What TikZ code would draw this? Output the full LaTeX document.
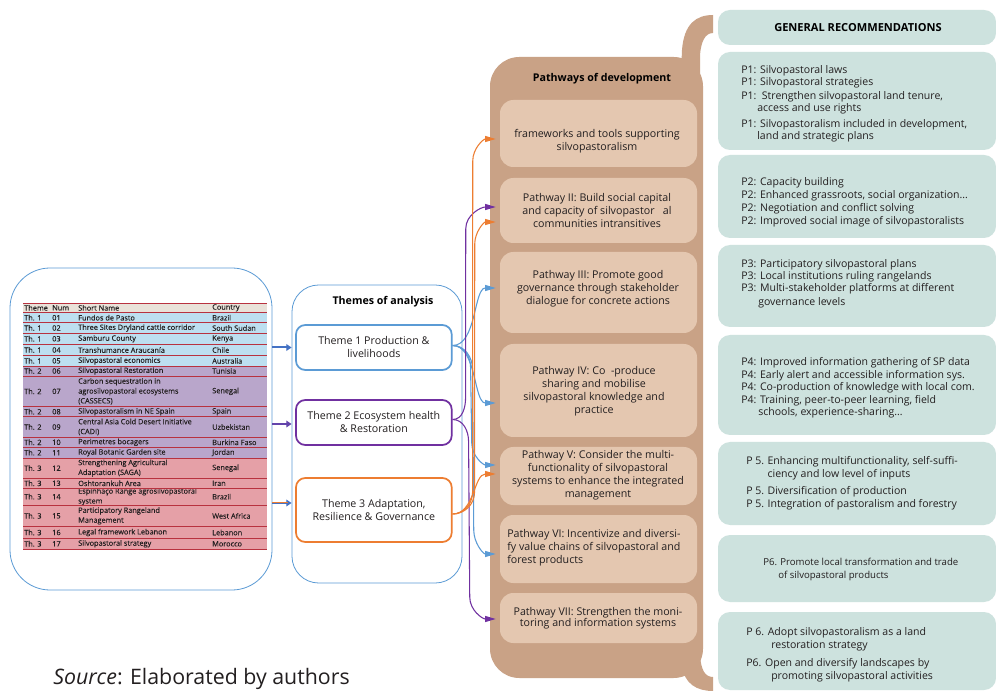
\documentclass[tikz,border=0pt]{standalone}
\usepackage{fontspec}
\setmainfont{Open Sans}
\newfontfamily\tblfont[FakeBold=0.3]{Open Sans}
\usetikzlibrary{arrows.meta,calc}

\definecolor{tblblue}{HTML}{BDDFF0}
\definecolor{tblpurple}{HTML}{B9A6CB}
\definecolor{tblpink}{HTML}{E5A0A7}
\definecolor{tblhead}{HTML}{E9E2D9}
\definecolor{tblrule}{HTML}{B8323F}
\definecolor{lineblue}{HTML}{5B9BD5}
\definecolor{arrowblue}{HTML}{4472C4}
\definecolor{themepurple}{HTML}{7030A0}
\definecolor{themeorange}{HTML}{ED7D31}
\definecolor{colbrown}{HTML}{C9A286}
\definecolor{pathfill}{HTML}{E4C7B0}
\definecolor{recfill}{HTML}{CDE2DE}
\definecolor{inktext}{HTML}{231F20}

\tikzset{
  tcell/.style={anchor=west, inner sep=0pt, align=left, font=\tblfont\fontsize{5.5}{7.4}\selectfont, text=inktext},
  themebox/.style={draw, line width=1.3pt, rounded corners=7pt, minimum width=116.8pt, align=center,
    font=\fontsize{8}{9.75}\selectfont, fill=white, text=inktext},
  pathbox/.style={fill=pathfill, rounded corners=10pt, minimum width=147.75pt, inner sep=0pt},
  pathtext/.style={align=center, font=\fontsize{8}{9.75}\selectfont, inner sep=0pt, text=inktext},
  recbox/.style={fill=recfill, rounded corners=9pt, minimum width=208.5pt, inner sep=0pt},
  rectext/.style={anchor=west, align=left, font=\fontsize{7.9}{9.4}\selectfont, inner sep=0pt, text=inktext},
  titletext/.style={font=\bfseries\fontsize{8}{9.75}\selectfont, inner sep=0pt, text=black},
  conn/.style={line width=0.8pt, -{Triangle[length=8pt,width=4.5pt]}},
  cblue/.style={conn, lineblue},
  cpurple/.style={conn, themepurple},
  corange/.style={conn, themeorange},
  feed/.style={line width=1.5pt, -{Triangle[length=4pt,width=5pt]}},
}

% one coloured table row: name, top, bottom, fill, theme, number, short name, country
\newcommand\sprow[8]{%
  \fill[#4] (23,#2) rectangle (267,#3);
  \node[tcell] (r#1a) at (24,{(#2+#3)/2}) {#5};
  \node[tcell] (r#1b) at (52,{(#2+#3)/2}) {#6};
  \node[tcell] (r#1c) at (78,{(#2+#3)/2}) {#7};
  \node[tcell] (r#1d) at (212,{(#2+#3)/2}) {#8};
}

\begin{document}
\begin{tikzpicture}[x=0.75pt,y=-0.75pt]
\useasboundingbox (0,0) rectangle (996,691);
\fill[white] (0,0) rectangle (996,691);

% ---------- case-study table ----------
\node[draw=lineblue, line width=0.6pt, rounded corners=30pt, minimum width=196.5pt,
      minimum height=241.5pt, inner sep=0pt] (tblbox) at (141,429) {};

\sprow{h}{303}{312.7}{tblhead}{Theme}{Num}{Short Name}{Country}
\sprow{01}{312.7}{322.7}{tblblue}{Th. 1}{01}{Fundos de Pasto}{Brazil}
\sprow{02}{322.7}{333.3}{tblblue}{Th. 1}{02}{Three Sites Dryland cattle corridor}{South Sudan}
\sprow{03}{333.3}{344.3}{tblblue}{Th. 1}{03}{Samburu County}{Kenya}
\sprow{04}{344.3}{355.7}{tblblue}{Th. 1}{04}{Transhumance Araucanía}{Chile}
\sprow{05}{355.7}{366}{tblblue}{Th. 1}{05}{Silvopastoral economics}{Australia}
\sprow{06}{366}{376}{tblpurple}{Th. 2}{06}{Silvopastoral Restoration}{Tunisia}
\sprow{07}{376}{406.7}{tblpurple}{Th. 2}{07}{Carbon sequestration in\\agrosilvopastoral ecosystems\\(CASSECS)}{Senegal}
\sprow{08}{406.7}{416.7}{tblpurple}{Th. 2}{08}{Silvopastoralism in NE Spain}{Spain}
\sprow{09}{416.7}{437.3}{tblpurple}{Th. 2}{09}{Central Asia Cold Desert Initiative\\(CADI)}{Uzbekistan}
\sprow{10}{437.3}{447.3}{tblpurple}{Th. 2}{10}{Perimetres bocagers}{Burkina Faso}
\sprow{11}{447.3}{458}{tblpurple}{Th. 2}{11}{Royal Botanic Garden site}{Jordan}
\sprow{12}{458}{478.3}{tblpink}{Th. 3}{12}{Strengthening Agricultural\\Adaptation (SAGA)}{Senegal}
\sprow{13}{478.3}{488.3}{tblpink}{Th. 3}{13}{Oshtorankuh Area}{Iran}
\sprow{14}{488.3}{505}{tblpink}{Th. 3}{14}{Espinhaço Range agrosilvopastoral\\system}{Brazil}
\sprow{15}{505}{526.7}{tblpink}{Th. 3}{15}{Participatory Rangeland\\Management}{West Africa}
\sprow{16}{526.7}{538.3}{tblpink}{Th. 3}{16}{Legal framework Lebanon}{Lebanon}
\sprow{17}{538.3}{549.3}{tblpink}{Th. 3}{17}{Silvopastoral strategy}{Morocco}
\foreach \yy in {303,312.7,322.7,333.3,344.3,355.7,366,376,406.7,416.7,437.3,447.3,458,478.3,488.3,505,526.7,538.3,549.3}
  \draw[tblrule, line width=0.7pt] (23,\yy) -- (267,\yy);

% ---------- themes ----------
\node[draw=lineblue, line width=0.6pt, rounded corners=20pt, minimum width=127.5pt,
      minimum height=223.5pt, inner sep=0pt] (thbox) at (377,434) {};
\node[titletext] (thtitle) at (383,302) {Themes of analysis};
\node[themebox, draw=lineblue, minimum height=33.75pt] (t1) at (373.85,347.5) {Theme 1 Production \&\\livelihoods};
\node[themebox, draw=themepurple, minimum height=33.75pt] (t2) at (373.85,422.5) {Theme 2 Ecosystem health\\\& Restoration};
\node[themebox, draw=themeorange, minimum height=48pt] (t3) at (373.85,510) {Theme 3 Adaptation,\\Resilience \& Governance};

% table feeds the three themes
\coordinate (fd1) at ($(t1.west)+(0,0)$);
\coordinate (fd2) at ($(t2.west)+(0,1.5)$);
\coordinate (fd3) at ($(t3.west)+(0,-7)$);
\draw[feed, arrowblue] (tblbox.east |- fd1) -- (thbox.west |- fd1);
\draw[feed, themepurple!70!arrowblue] (tblbox.east |- fd2) -- (thbox.west |- fd2);
\draw[feed, arrowblue] (tblbox.east |- fd3) -- (thbox.west |- fd3);
\draw[line width=0.7pt, themeorange] ($(tblbox.east |- fd3)+(0,-1)$) -- ($(thbox.west |- fd3)+(-4,-1)$);

% ---------- pathways column ----------
\fill[colbrown] (680,95) -- (682,50) .. controls (684,24) and (696,15) .. (713,15)
   -- (713,33) .. controls (705,33) and (701,42) .. (700,55) -- (700,95) -- cycle;
\fill[colbrown] (682,640) -- (700,640) -- (700,655) .. controls (701,670) and (705,677) .. (713,677)
   -- (713,691) .. controls (697,691) and (684,684) .. (682,665) -- cycle;
\fill[colbrown, rounded corners=22pt] (490,57) rectangle (703,678);
\node[titletext] (pwtitle) at (602,79) {Pathways of development};

\node[pathbox, minimum height=50.25pt] (p1) at (598.5,133.5) {};
\node[pathbox, minimum height=48.75pt] (p2) at (598.5,210.5) {};
\node[pathbox, minimum height=60.75pt] (p3) at (598.5,292.5) {};
\node[pathbox, minimum height=69.75pt] (p4) at (598.5,390.5) {};
\node[pathbox, minimum height=43.5pt]  (p5) at (598.5,476) {};
\node[pathbox, minimum height=51pt]    (p6) at (598.5,549) {};
\node[pathbox, minimum height=37.5pt]  (p7) at (598.5,618) {};

\node[pathtext] (p1t) at (597,141.5) {frameworks and tools supporting\\silvopastoralism};
\node[pathtext] (p2t) at (597,211) {Pathway II: Build social capital\\and capacity of silvopastor\ \ \ al\\communities intransitives};
\node[pathtext] (p3t) at (598,289) {Pathway III: Promote good\\governance through stakeholder\\dialogue for concrete actions};
\node[pathtext] (p4t) at (594,391) {Pathway IV: Co\ \ -produce\\sharing and mobilise\\silvopastoral knowledge and\\practice};
\node[pathtext] (p5t) at (598,475) {Pathway V: Consider the multi-\\functionality of silvopastoral\\systems to enhance the integrated\\management};
\node[pathtext, anchor=west, align=left] (p6t) at (507,548) {Pathway VI: Incentivize and diversi-\\fy value chains of silvopastoral and\\forest products};
\node[pathtext, font=\fontsize{8}{8.2}\selectfont] (p7t) at (598,618) {Pathway VII: Strengthen the moni-\\toring and information systems};

% ---------- connectors theme -> pathway ----------
\coordinate (s1) at ($(t1.east)+(0,-2)$);
\coordinate (s2) at ($(t2.east)+(0,-3)$);
\coordinate (s3) at ($(t3.east)+(0,4)$);
\coordinate (e1)  at ($(p1.west)+(-4,5.5)$);
\coordinate (e2a) at ($(p2.west)+(-4,-3.5)$);
\coordinate (e2b) at ($(p2.west)+(-4,11.5)$);
\coordinate (e3)  at ($(p3.west)+(-4,-4.5)$);
\coordinate (e4)  at ($(p4.west)+(-4,12.5)$);
\coordinate (e5a) at ($(p5.west)+(-4,-11)$);
\coordinate (e5b) at ($(p5.west)+(-4,-2)$);
\coordinate (e6)  at ($(p6.west)+(-4,5)$);
\coordinate (e7)  at ($(p7.west)+(-4,1)$);

\draw[cblue] (s1) .. controls +(24,0) and +(-22,0) .. (e3);
\draw[cblue] (s1) .. controls +(24,0) and +(-22,0) .. (e4);
\draw[cblue] (s1) to[out=0,in=90] ++(18,22) -- ($(e5a)+(-24,-22)$) to[out=-90,in=180] (e5a);
\draw[cblue] (s1) to[out=0,in=90] ++(20,24) -- ($(e6)+(-22,-24)$) to[out=-90,in=180] (e6);

\draw[cpurple] (s2) to[out=0,in=-90] ++(13,-22) -- ($(e2a)+(-30,22)$) to[out=90,in=180] (e2a);
\draw[cpurple] (s2) to[out=0,in=90] ++(16,22) -- ($(e7)+(-26,-22)$) to[out=-90,in=180] (e7);

\draw[corange] (s3) to[out=0,in=-90] ++(20,-22) -- ($(e1)+(-23,22)$) to[out=90,in=180] (e1);
\draw[corange] (s3) to[out=0,in=-90] ++(22,-22) -- ($(e2b)+(-21,22)$) to[out=90,in=180] (e2b);
\draw[corange] (s3) .. controls +(22,0) and +(-22,0) .. (e5b);

% ---------- general recommendations ----------
\node[recbox, minimum height=26.25pt] (rh) at (857,27.5) {};
\node[titletext, font=\bfseries\fontsize{8.3}{9}\selectfont] (rht) at (858,28) {GENERAL RECOMMENDATIONS};
\node[recbox, minimum height=73.5pt]  (r1) at (857,101) {};
\node[recbox, minimum height=62.25pt] (r2) at (857,196.5) {};
\node[recbox, minimum height=61.5pt]  (r3) at (857,286) {};
\node[recbox, minimum height=75pt]    (r4) at (857,385) {};
\node[recbox, minimum height=62.25pt] (r5) at (857,483.5) {};
\node[recbox, minimum height=50.25pt] (r6) at (857,568.5) {};
\node[recbox, minimum height=58.5pt]  (r7) at (857,651) {};

\node[rectext, font=\fontsize{7.9}{9}\selectfont] (r1t) at (741,104) {P1: Silvopastoral laws\\
P1: Silvopastoral strategies\\[1.5pt]
P1:\ \ Strengthen silvopastoral land tenure,\\
\hspace*{12pt}access and use rights\\[3pt]
P1: Silvopastoralism included in development,\\
\hspace*{12pt}land and strategic plans};
\node[rectext, font=\fontsize{7.9}{9.75}\selectfont] (r2t) at (741,202.5) {P2: Capacity building\\
P2: Enhanced grassroots, social organization…\\
P2: Negotiation and conflict solving\\
P2: Improved social image of silvopastoralists};
\node[rectext, font=\fontsize{7.9}{9}\selectfont] (r3t) at (741,283.5) {P3: Participatory silvopastoral plans\\
P3: Local institutions ruling rangelands\\
P3: Multi-stakeholder platforms at different\\[1.5pt]
\hspace*{12.75pt}governance levels};
\node[rectext] (r4t) at (741,388) {P4: Improved information gathering of SP data\\
P4: Early alert and accessible information sys.\\
P4: Co-production of knowledge with local com.\\
P4: Training, peer-to-peer learning, field\\
\hspace*{12.75pt}schools, experience-sharing…};
\node[rectext, font=\fontsize{7.9}{9.75}\selectfont] (r5t) at (746,483.5) {\makebox[16pt][l]{P 5.}Enhancing multifunctionality, self-suffi-\\
\hspace*{16pt}ciency and low level of inputs\\[3pt]
\makebox[16pt][l]{P 5.}Diversification of production\\
\makebox[16pt][l]{P 5.}Integration of pastoralism and forestry};
\node[rectext, font=\fontsize{7.2}{9.75}\selectfont] (r6t) at (763,569.5) {P6. Promote local transformation and trade\\
\hspace*{11.25pt}of silvopastoral products};
\node[rectext, font=\fontsize{7.9}{9.75}\selectfont] (r7t) at (746,654.5) {P 6. Adopt silvopastoralism as a land\\
\hspace*{18.75pt}restoration strategy\\[3.5pt]
P6. Open and diversify landscapes by\\
\hspace*{18.75pt}promoting silvopastoral activities};

% ---------- source line ----------
\node[anchor=base west, inner sep=0pt, font=\fontsize{16}{19}\selectfont, text=inktext] (src) at (53,684)
  {\textit{Source}: Elaborated by authors};
\end{tikzpicture}
\end{document}
